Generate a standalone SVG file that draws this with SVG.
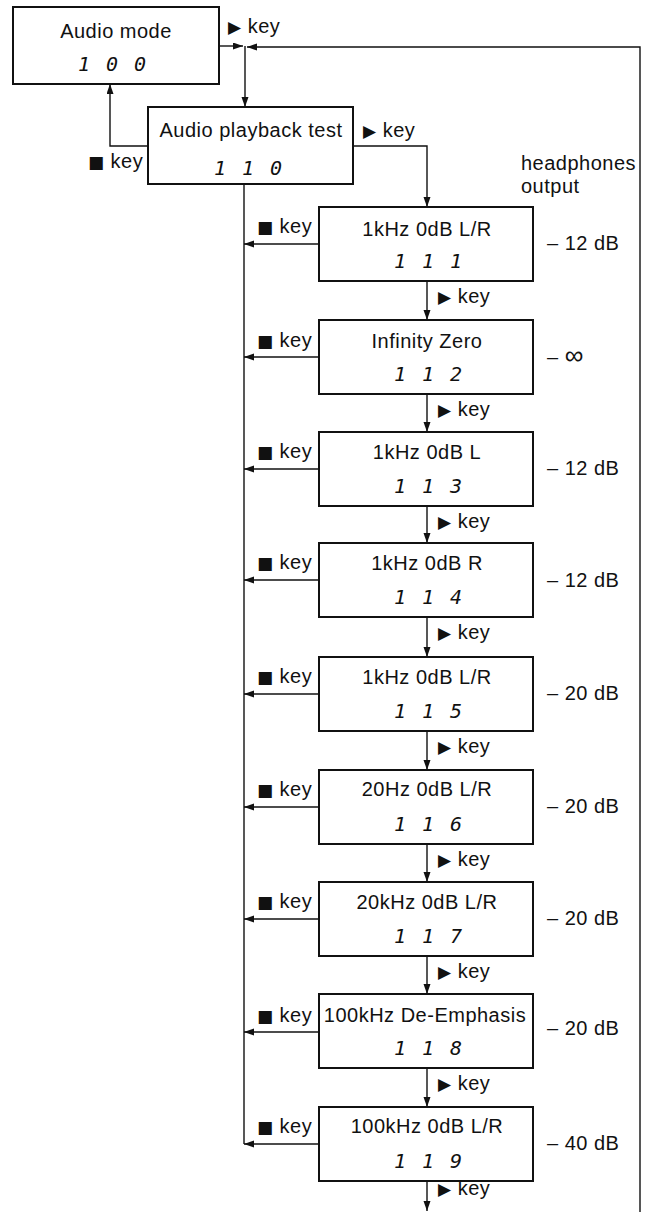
<svg xmlns="http://www.w3.org/2000/svg" width="646" height="1212" viewBox="0 0 646 1212">
<style>
text{font-family:"Liberation Sans",Arial,"DejaVu Sans",sans-serif;font-size:20px;letter-spacing:0.5px;fill:#111}
.c{text-anchor:middle}
.num{font-family:"DejaVu Sans Mono","Liberation Mono",monospace;font-style:italic;font-size:20px;letter-spacing:2px;text-anchor:middle;font-weight:normal}
.sym{font-family:"DejaVu Sans",sans-serif;font-size:17px}
.box{fill:#fff;stroke:#111;stroke-width:2}
.ln{fill:none;stroke:#111;stroke-width:1.4}
</style>
<defs>
<marker id="ah" markerUnits="userSpaceOnUse" markerWidth="11" markerHeight="8" refX="10" refY="3.5" orient="auto">
<path d="M0,0 L10,3.5 L0,7 z" fill="#111"/>
</marker>
</defs>
<g id="connectors">
<line class="ln" x1="219" y1="46" x2="243" y2="46" marker-end="url(#ah)"/>
<path class="ln" d="M640,1212 V47 H247" marker-end="url(#ah)"/>
<line class="ln" x1="245" y1="46" x2="245" y2="107" marker-end="url(#ah)"/>
<path class="ln" d="M148,146 H110 V84" marker-end="url(#ah)"/>
<path class="ln" d="M353,146 H427 V207" marker-end="url(#ah)"/>
<path class="ln" d="M244,184 V1144"/>
<line class="ln" x1="427" y1="281" x2="427" y2="320" marker-end="url(#ah)"/>
<line class="ln" x1="427" y1="394" x2="427" y2="432" marker-end="url(#ah)"/>
<line class="ln" x1="427" y1="506" x2="427" y2="543" marker-end="url(#ah)"/>
<line class="ln" x1="427" y1="617" x2="427" y2="657" marker-end="url(#ah)"/>
<line class="ln" x1="427" y1="731" x2="427" y2="770" marker-end="url(#ah)"/>
<line class="ln" x1="427" y1="844" x2="427" y2="882" marker-end="url(#ah)"/>
<line class="ln" x1="427" y1="956" x2="427" y2="994" marker-end="url(#ah)"/>
<line class="ln" x1="427" y1="1068" x2="427" y2="1107" marker-end="url(#ah)"/>
<line class="ln" x1="427" y1="1181" x2="427" y2="1211" marker-end="url(#ah)"/>
<line class="ln" x1="319" y1="244" x2="244" y2="244" marker-end="url(#ah)"/>
<line class="ln" x1="319" y1="357" x2="244" y2="357" marker-end="url(#ah)"/>
<line class="ln" x1="319" y1="469" x2="244" y2="469" marker-end="url(#ah)"/>
<line class="ln" x1="319" y1="580" x2="244" y2="580" marker-end="url(#ah)"/>
<line class="ln" x1="319" y1="694" x2="244" y2="694" marker-end="url(#ah)"/>
<line class="ln" x1="319" y1="807" x2="244" y2="807" marker-end="url(#ah)"/>
<line class="ln" x1="319" y1="919" x2="244" y2="919" marker-end="url(#ah)"/>
<line class="ln" x1="319" y1="1032" x2="244" y2="1032" marker-end="url(#ah)"/>
<line class="ln" x1="319" y1="1144" x2="244" y2="1144" marker-end="url(#ah)"/>
<text x="228" y="33"><tspan class="sym">▶</tspan> key</text>
<text x="363" y="137"><tspan class="sym">▶</tspan> key</text>
<text x="88" y="168"><tspan class="sym">■</tspan> key</text>
<text x="438" y="303"><tspan class="sym">▶</tspan> key</text>
<text x="438" y="416"><tspan class="sym">▶</tspan> key</text>
<text x="438" y="528"><tspan class="sym">▶</tspan> key</text>
<text x="438" y="639"><tspan class="sym">▶</tspan> key</text>
<text x="438" y="753"><tspan class="sym">▶</tspan> key</text>
<text x="438" y="866"><tspan class="sym">▶</tspan> key</text>
<text x="438" y="978"><tspan class="sym">▶</tspan> key</text>
<text x="438" y="1090"><tspan class="sym">▶</tspan> key</text>
<text x="438" y="1195"><tspan class="sym">▶</tspan> key</text>
<text x="257" y="233"><tspan class="sym">■</tspan> key</text>
<text x="257" y="347"><tspan class="sym">■</tspan> key</text>
<text x="257" y="458"><tspan class="sym">■</tspan> key</text>
<text x="257" y="569"><tspan class="sym">■</tspan> key</text>
<text x="257" y="683"><tspan class="sym">■</tspan> key</text>
<text x="257" y="796"><tspan class="sym">■</tspan> key</text>
<text x="257" y="908"><tspan class="sym">■</tspan> key</text>
<text x="257" y="1022"><tspan class="sym">■</tspan> key</text>
<text x="257" y="1133"><tspan class="sym">■</tspan> key</text>
</g>
<g id="audio-mode">
<rect class="box" x="13" y="7" width="206" height="77"/>
<text class="c" x="116" y="38">Audio mode</text>
<text class="num" x="113" y="71">1 0 0</text>
</g>
<g id="playback">
<rect class="box" x="148" y="107" width="205" height="77"/>
<text class="c" x="251" y="137">Audio playback test</text>
<text class="num" x="249" y="175">1 1 0</text>
</g>
<g id="headphones-label">
<text x="521" y="170">headphones</text>
<text x="521" y="193">output</text>
</g>
<g id="n111">
<rect class="box" x="319" y="207" width="214" height="74"/>
<text class="c" x="427" y="236">1kHz 0dB L/R</text>
<text class="num" x="429" y="268">1 1 1</text>
<text x="547" y="250">– 12 dB</text>
</g>
<g id="n112">
<rect class="box" x="319" y="320" width="214" height="74"/>
<text class="c" x="427" y="348">Infinity Zero</text>
<text class="num" x="429" y="381">1 1 2</text>
<text x="547" y="364">– <tspan font-size="26">∞</tspan></text>
</g>
<g id="n113">
<rect class="box" x="319" y="432" width="214" height="74"/>
<text class="c" x="427" y="459">1kHz 0dB L</text>
<text class="num" x="429" y="493">1 1 3</text>
<text x="547" y="475">– 12 dB</text>
</g>
<g id="n114">
<rect class="box" x="319" y="543" width="214" height="74"/>
<text class="c" x="427" y="570">1kHz 0dB R</text>
<text class="num" x="429" y="604">1 1 4</text>
<text x="547" y="587">– 12 dB</text>
</g>
<g id="n115">
<rect class="box" x="319" y="657" width="214" height="74"/>
<text class="c" x="427" y="684">1kHz 0dB L/R</text>
<text class="num" x="429" y="718">1 1 5</text>
<text x="547" y="700">– 20 dB</text>
</g>
<g id="n116">
<rect class="box" x="319" y="770" width="214" height="74"/>
<text class="c" x="427" y="796">20Hz 0dB L/R</text>
<text class="num" x="429" y="831">1 1 6</text>
<text x="547" y="813">– 20 dB</text>
</g>
<g id="n117">
<rect class="box" x="319" y="882" width="214" height="74"/>
<text class="c" x="427" y="909">20kHz 0dB L/R</text>
<text class="num" x="429" y="943">1 1 7</text>
<text x="547" y="925">– 20 dB</text>
</g>
<g id="n118">
<rect class="box" x="319" y="994" width="214" height="74"/>
<text class="c" x="425" y="1022">100kHz De-Emphasis</text>
<text class="num" x="429" y="1055">1 1 8</text>
<text x="547" y="1035">– 20 dB</text>
</g>
<g id="n119">
<rect class="box" x="319" y="1107" width="214" height="74"/>
<text class="c" x="427" y="1133">100kHz 0dB L/R</text>
<text class="num" x="429" y="1168">1 1 9</text>
<text x="547" y="1150">– 40 dB</text>
</g>
</svg>
